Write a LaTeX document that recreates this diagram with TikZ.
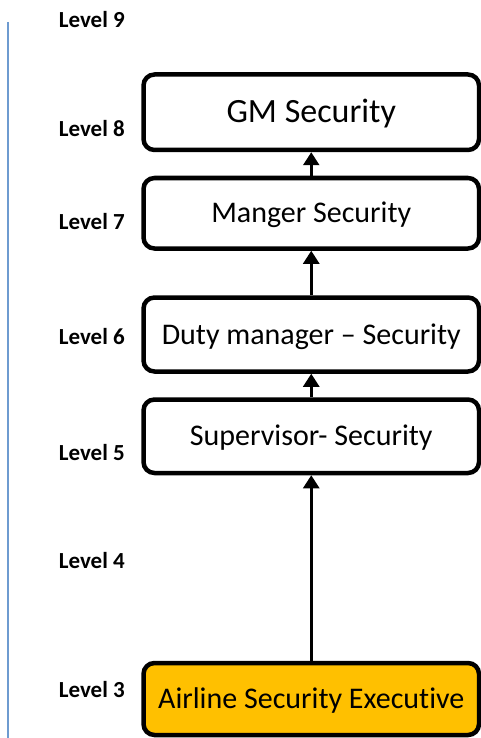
\documentclass[tikz,border=0pt]{standalone}
\usepackage{fontspec}
\setmainfont{Carlito}[Ligatures=NoCommon]
\usetikzlibrary{arrows.meta}
\definecolor{axisblue}{RGB}{110,155,208}
\definecolor{execfill}{RGB}{255,192,0}
\tikzset{
  rolebox/.style={draw=black, line width=4.5pt, rounded corners=11pt, fill=white,
    minimum width=335.5pt, inner sep=0pt, text height=19pt, text depth=0pt,
    font=\fontsize{30}{36}\selectfont},
  levellabel/.style={anchor=east, inner sep=0pt, font=\fontsize{23}{27}\selectfont\bfseries},
  uparrow/.style={line width=2.5pt, -{Triangle[width=16pt,length=13pt]}},
  axisline/.style={draw=axisblue, line width=1.5pt}
}
\begin{document}
\begin{tikzpicture}[x=1pt,y=-1pt]
\useasboundingbox (0,0) rectangle (481,738);
% vertical axis line
\coordinate (axtop) at (8,22);
\coordinate (axbot) at (8,738);
\draw[axisline] (axtop) -- (axbot);
% level labels
\node[levellabel] (l9) at (125,19.5) {Level 9};
\node[levellabel] (l8) at (125,129) {Level 8};
\node[levellabel] (l7) at (125,222) {Level 7};
\node[levellabel] (l6) at (125,337) {Level 6};
\node[levellabel] (l5) at (125,452.5) {Level 5};
\node[levellabel] (l4) at (125,561) {Level 4};
\node[levellabel] (l3) at (125,690) {Level 3};
% boxes
\node[rolebox, minimum height=75.5pt, text height=21.5pt, font=\fontsize{34}{40}\selectfont] (gm) at (311.25,112.25) {GM Security};
\node[rolebox, minimum height=70.5pt] (mgr) at (311.25,213.25) {Manger Security};
\node[rolebox, minimum height=74pt] (duty) at (311.25,334.5) {Duty manager – Security};
\node[rolebox, minimum height=73.5pt] (sup) at (311.25,436.25) {Supervisor- Security};
\node[rolebox, minimum height=72pt, fill=execfill] (exec) at (311.25,699) {Airline Security Executive};
% arrows
\draw[uparrow] (mgr.north) -- (gm.south);
\draw[uparrow] (duty.north) -- (mgr.south);
\draw[uparrow] (sup.north) -- (duty.south);
\draw[uparrow] (exec.north) -- (sup.south);
\end{tikzpicture}
\end{document}
